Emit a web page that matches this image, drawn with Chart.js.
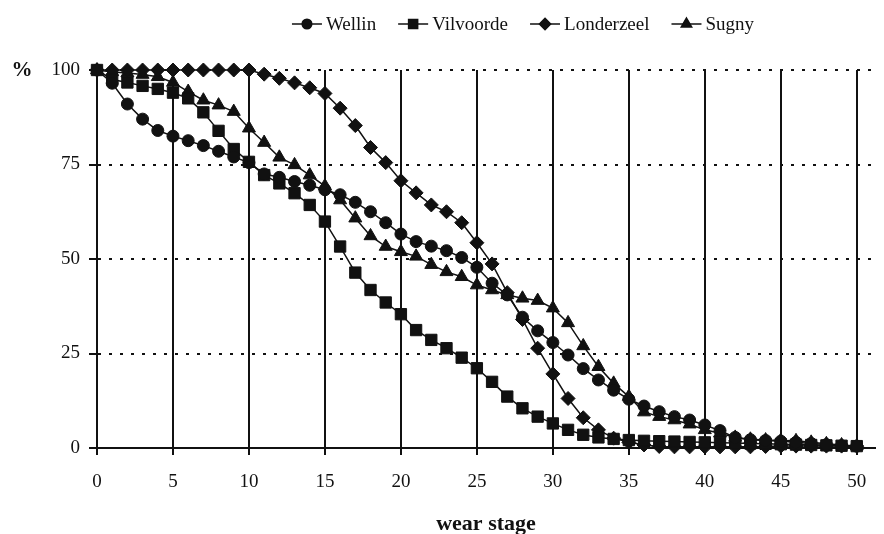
<!DOCTYPE html>
<html>
<head>
<meta charset="utf-8">
<title>wear stage</title>
<script src="https://cdn.jsdelivr.net/npm/chart.js@4/dist/chart.umd.min.js"></script>
<style>
  html, body { margin: 0; padding: 0; background: #fff; }
  #wrap { width: 884px; height: 534px; position: relative; }
</style>
</head>
<body>
<div id="wrap"><canvas id="myChart"></canvas></div>
<script>
'use strict';

//////////////////////
// data
//////////////////////

const wearStages = [0, 1, 2, 3, 4, 5, 6, 7, 8, 9, 10, 11, 12, 13, 14, 15, 16, 17, 18, 19, 20, 21, 22, 23, 24, 25,
  26, 27, 28, 29, 30, 31, 32, 33, 34, 35, 36, 37, 38, 39, 40, 41, 42, 43, 44, 45, 46, 47, 48, 49, 50];

const wellin = [100, 96.5, 91, 87, 84, 82.5, 81.3, 80, 78.5, 77, 75.5, 72.5, 71.6, 70.5, 69.5, 68.3, 67, 65, 62.5, 59.6,
  56.6, 54.6, 53.4, 52.2, 50.4, 47.8, 43.6, 40.5, 34.6, 31, 27.9, 24.6, 21, 18, 15.3, 12.9, 11.1, 9.6, 8.3, 7.4,
  6.1, 4.6, 2.8, 2.2, 2, 1.8, 1.5, 1.2, 0.9, 0.6, 0.5];

const vilvoorde = [100, 97.5, 96.7, 95.8, 95, 94, 92.5, 88.8, 83.9, 79.1, 75.7, 72.2, 70, 67.4, 64.3, 59.9, 53.3, 46.4, 41.8, 38.5,
  35.4, 31.2, 28.6, 26.4, 23.9, 21.1, 17.5, 13.6, 10.5, 8.3, 6.5, 4.8, 3.5, 2.8, 2.4, 2.1, 1.9, 1.8, 1.7, 1.6,
  1.5, 1.4, 1.3, 1.2, 1.1, 1, 0.9, 0.8, 0.7, 0.6, 0.5];

const londerzeel = [100, 100, 100, 100, 100, 100, 100, 100, 100, 100, 100, 98.9, 97.8, 96.6, 95.3, 93.8, 89.9, 85.3, 79.5, 75.5,
  70.7, 67.5, 64.3, 62.5, 59.6, 54.3, 48.7, 41.1, 34, 26.4, 19.6, 13.1, 8, 4.8, 2.6, 1.5, 0.8, 0.4, 0.3, 0.3,
  0.3, 0.3, 0.3, 0.3, 0.4, 0.5, 0.5, 0.5, 0.5, 0.5, 0.5];

const sugny = [100, 99.5, 99.2, 98.8, 98.2, 96.7, 94.3, 92, 90.7, 89, 84.6, 80.8, 76.9, 74.9, 72.2, 69.3, 65.6, 60.8, 56.1, 53.3,
  51.9, 50.7, 48.5, 46.6, 45.3, 43.1, 41.8, 40.5, 39.6, 39, 37, 33.1, 27, 21.5, 17.1, 13.6, 9.5, 8.3, 7.4, 6.3,
  4.8, 3.9, 2.8, 2.3, 2.1, 2, 1.9, 1.5, 1.1, 0.8, 0.5];

const seriesNames = ['Wellin', 'Vilvoorde', 'Londerzeel', 'Sugny'];
const xTickValues = [0, 5, 10, 15, 20, 25, 30, 35, 40, 45, 50];
const yTickValues = [0, 25, 50, 75, 100];

//////////////////////
// chart
//////////////////////

const serif = "'Liberation Serif', 'Times New Roman', serif";
const ink = '#111';

const markers = [
  { style: 'circle', radius: 6 },
  { style: 'rect', radius: 8 },
  { style: 'rectRot', radius: 7 },
  { style: 'triangle', radius: 7.5 }
];

function makeDataset(name, values, marker) {
  return {
    label: name,
    data: wearStages.map((x, i) => ({ x: x, y: values[i] })),
    borderColor: ink,
    backgroundColor: ink,
    borderWidth: 1.5,
    pointStyle: marker.style,
    pointRadius: marker.radius,
    pointBackgroundColor: ink,
    pointBorderColor: ink,
    pointBorderWidth: 1,
    tension: 0,
    clip: false
  };
}

const allValues = [wellin, vilvoorde, londerzeel, sugny];
const datasets = seriesNames.map((name, i) => makeDataset(name, allValues[i], markers[i]));

// legend with a line through each marker, plus the % label
const extrasPlugin = {
  id: 'extras',
  afterDraw(chart) {
    const ctx = chart.ctx;
    ctx.save();
    ctx.font = '19px ' + serif;
    ctx.fillStyle = ink;
    ctx.textBaseline = 'middle';

    const lineLen = 30;
    const textGap = 4;
    const itemGap = 22;
    let total = 0;
    for (let name of seriesNames) {
      total += lineLen + textGap + ctx.measureText(name).width;
    }
    total += itemGap * (seriesNames.length - 1);

    let x = 523 - total / 2;
    const y = 24;
    for (let i = 0; i < seriesNames.length; i++) {
      ctx.strokeStyle = ink;
      ctx.lineWidth = 1.5;
      ctx.beginPath();
      ctx.moveTo(x, y);
      ctx.lineTo(x + lineLen, y);
      ctx.stroke();
      Chart.helpers.drawPoint(ctx, {
        pointStyle: markers[i].style,
        radius: markers[i].radius * 0.8,
        borderWidth: 1
      }, x + lineLen / 2, y);
      ctx.fill();
      x += lineLen + textGap;
      ctx.textAlign = 'left';
      ctx.fillText(seriesNames[i], x, y + 1);
      x += ctx.measureText(seriesNames[i]).width + itemGap;
    }

    ctx.font = 'bold 21px ' + serif;
    ctx.textAlign = 'center';
    ctx.fillText('%', 22, 71);
    ctx.restore();
  }
};

const config = {
  type: 'line',
  data: { datasets: datasets },
  options: {
    responsive: true,
    maintainAspectRatio: false,
    animation: false,
    layout: { padding: { top: 70, right: 0, left: 0, bottom: 0 } },
    plugins: {
      legend: { display: false },
      tooltip: { enabled: false }
    },
    scales: {
      x: {
        type: 'linear',
        min: 0,
        max: 51.2,
        afterBuildTicks: (scale) => { scale.ticks = xTickValues.map(v => ({ value: v })); },
        afterFit: (scale) => { scale.height = 86; },
        grid: {
          color: ink,
          lineWidth: 2,
          tickLength: 7,
          tickColor: ink
        },
        border: { display: true, color: ink, width: 2 },
        ticks: {
          color: ink,
          font: { family: serif, size: 19 },
          padding: 16,
          maxRotation: 0,
          autoSkip: false
        },
        title: {
          display: true,
          text: 'wear stage',
          color: ink,
          font: { family: serif, size: 22, weight: 'bold' },
          padding: { top: 0, bottom: -4 }
        }
      },
      y: {
        min: 0,
        max: 100,
        afterBuildTicks: (scale) => { scale.ticks = yTickValues.map(v => ({ value: v })); },
        afterFit: (scale) => { scale.width = 97; },
        grid: {
          color: ink,
          lineWidth: 2,
          tickBorderDash: [],
          tickLength: 8,
          tickColor: ink
        },
        border: { display: true, color: ink, width: 2, dash: [3, 8] },
        ticks: {
          color: ink,
          font: { family: serif, size: 19 },
          padding: 9
        }
      }
    }
  },
  plugins: [extrasPlugin]
};

let canvasChart = document.getElementById('myChart');
const myChart = new Chart(canvasChart, config);
</script>
</body>
</html>
